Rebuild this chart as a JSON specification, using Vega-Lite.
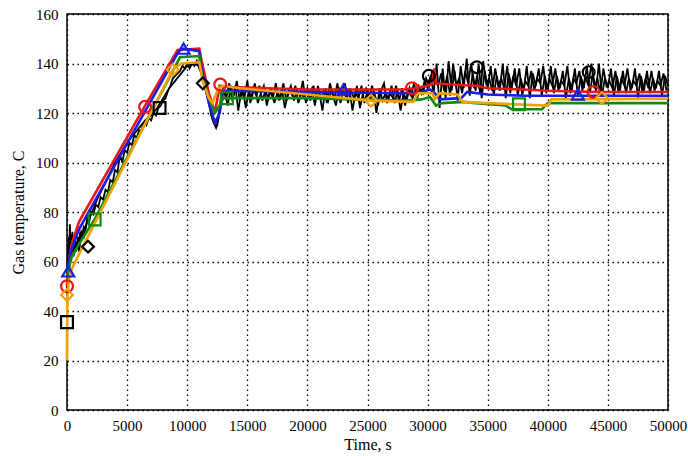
{
  "$schema": "https://vega.github.io/schema/vega-lite/v6.json",
  "width": 601,
  "height": 396,
  "autosize": {"type": "none"},
  "padding": {"left": 67, "top": 14, "right": 20, "bottom": 46},
  "background": "white",
  "config": {
    "view": {"stroke": "#000", "strokeWidth": 1.5},
    "axis": {
      "labelFont": "Liberation Serif", "labelFontSize": 15, "labelColor": "#000",
      "titleFont": "Liberation Serif", "titleFontSize": 16, "titleFontWeight": "normal", "titleColor": "#000",
      "domain": false, "ticks": false,
      "grid": true, "gridColor": "#000", "gridOpacity": 1, "gridDash": [1.5, 3.5], "gridWidth": 1.3
    }
  },
  "datasets": {
    "lines": [
      {"s": "Measured", "t": 0, "v": 40}, {"s": "Measured", "t": 50, "v": 52}, {"s": "Measured", "t": 100, "v": 60}, {"s": "Measured", "t": 150, "v": 70}, {"s": "Measured", "t": 200, "v": 58}, {"s": "Measured", "t": 250, "v": 74}, {"s": "Measured", "t": 300, "v": 62}, {"s": "Measured", "t": 350, "v": 71}, {"s": "Measured", "t": 400, "v": 64}, {"s": "Measured", "t": 500, "v": 69}, {"s": "Measured", "t": 600, "v": 63}, {"s": "Measured", "t": 700, "v": 67}, {"s": "Measured", "t": 800, "v": 65}, {"s": "Measured", "t": 900, "v": 70}, {"s": "Measured", "t": 1000, "v": 67}, {"s": "Measured", "t": 1100, "v": 72}, {"s": "Measured", "t": 1250, "v": 70}, {"s": "Measured", "t": 1400, "v": 74}, {"s": "Measured", "t": 1550, "v": 73}, {"s": "Measured", "t": 1700, "v": 78}, {"s": "Measured", "t": 1850, "v": 76}, {"s": "Measured", "t": 2000, "v": 80}, {"s": "Measured", "t": 2200, "v": 79}, {"s": "Measured", "t": 2400, "v": 83}, {"s": "Measured", "t": 2600, "v": 82}, {"s": "Measured", "t": 2800, "v": 86}, {"s": "Measured", "t": 3000, "v": 85}, {"s": "Measured", "t": 3200, "v": 89}, {"s": "Measured", "t": 3400, "v": 88}, {"s": "Measured", "t": 3600, "v": 93}, {"s": "Measured", "t": 3800, "v": 92}, {"s": "Measured", "t": 4000, "v": 97}, {"s": "Measured", "t": 4200, "v": 96}, {"s": "Measured", "t": 4400, "v": 103}, {"s": "Measured", "t": 4600, "v": 100}, {"s": "Measured", "t": 4800, "v": 105}, {"s": "Measured", "t": 5000, "v": 104}, {"s": "Measured", "t": 5200, "v": 108}, {"s": "Measured", "t": 5400, "v": 107}, {"s": "Measured", "t": 5600, "v": 111}, {"s": "Measured", "t": 5800, "v": 110}, {"s": "Measured", "t": 6000, "v": 113}, {"s": "Measured", "t": 6200, "v": 113}, {"s": "Measured", "t": 6400, "v": 116}, {"s": "Measured", "t": 6600, "v": 115}, {"s": "Measured", "t": 6800, "v": 118}, {"s": "Measured", "t": 7000, "v": 117}, {"s": "Measured", "t": 7200, "v": 120}, {"s": "Measured", "t": 7400, "v": 119}, {"s": "Measured", "t": 7600, "v": 122}, {"s": "Measured", "t": 7800, "v": 123}, {"s": "Measured", "t": 8000, "v": 125}, {"s": "Measured", "t": 8200, "v": 126}, {"s": "Measured", "t": 8400, "v": 129}, {"s": "Measured", "t": 8600, "v": 131}, {"s": "Measured", "t": 8800, "v": 134}, {"s": "Measured", "t": 9000, "v": 135}, {"s": "Measured", "t": 9200, "v": 136}, {"s": "Measured", "t": 9400, "v": 137}, {"s": "Measured", "t": 9600, "v": 139}, {"s": "Measured", "t": 9800, "v": 138}, {"s": "Measured", "t": 10000, "v": 140}, {"s": "Measured", "t": 10200, "v": 138}, {"s": "Measured", "t": 10400, "v": 140}, {"s": "Measured", "t": 10600, "v": 139}, {"s": "Measured", "t": 10800, "v": 141}, {"s": "Measured", "t": 11000, "v": 138}, {"s": "Measured", "t": 11200, "v": 136}, {"s": "Measured", "t": 11400, "v": 131}, {"s": "Measured", "t": 11600, "v": 128}, {"s": "Measured", "t": 11800, "v": 124}, {"s": "Measured", "t": 12000, "v": 119}, {"s": "Measured", "t": 12200, "v": 116}, {"s": "Measured", "t": 12400, "v": 114}, {"s": "Measured", "t": 12600, "v": 118}, {"s": "Measured", "t": 12800, "v": 126},
      {"s": "Measured", "t": 13000, "v": 130}, {"s": "Measured", "t": 13250, "v": 126}, {"s": "Measured", "t": 13500, "v": 132}, {"s": "Measured", "t": 13750, "v": 125}, {"s": "Measured", "t": 14000, "v": 131}, {"s": "Measured", "t": 14250, "v": 121}, {"s": "Measured", "t": 14500, "v": 129}, {"s": "Measured", "t": 14750, "v": 126}, {"s": "Measured", "t": 15000, "v": 133}, {"s": "Measured", "t": 15250, "v": 124}, {"s": "Measured", "t": 15500, "v": 130}, {"s": "Measured", "t": 15750, "v": 127}, {"s": "Measured", "t": 16000, "v": 131}, {"s": "Measured", "t": 16250, "v": 125}, {"s": "Measured", "t": 16500, "v": 129}, {"s": "Measured", "t": 16750, "v": 126}, {"s": "Measured", "t": 17000, "v": 130}, {"s": "Measured", "t": 17250, "v": 124}, {"s": "Measured", "t": 17500, "v": 128}, {"s": "Measured", "t": 17750, "v": 126}, {"s": "Measured", "t": 18000, "v": 132}, {"s": "Measured", "t": 18250, "v": 125}, {"s": "Measured", "t": 18500, "v": 129}, {"s": "Measured", "t": 18750, "v": 127}, {"s": "Measured", "t": 19000, "v": 131}, {"s": "Measured", "t": 19250, "v": 124}, {"s": "Measured", "t": 19500, "v": 128}, {"s": "Measured", "t": 19750, "v": 126}, {"s": "Measured", "t": 20000, "v": 130}, {"s": "Measured", "t": 20250, "v": 125}, {"s": "Measured", "t": 20500, "v": 131}, {"s": "Measured", "t": 20750, "v": 126}, {"s": "Measured", "t": 21000, "v": 128}, {"s": "Measured", "t": 21250, "v": 121}, {"s": "Measured", "t": 21500, "v": 130}, {"s": "Measured", "t": 21750, "v": 125}, {"s": "Measured", "t": 22000, "v": 129}, {"s": "Measured", "t": 22250, "v": 126}, {"s": "Measured", "t": 22500, "v": 132}, {"s": "Measured", "t": 22750, "v": 124}, {"s": "Measured", "t": 23000, "v": 129}, {"s": "Measured", "t": 23250, "v": 126}, {"s": "Measured", "t": 23500, "v": 130}, {"s": "Measured", "t": 23750, "v": 121}, {"s": "Measured", "t": 24000, "v": 128}, {"s": "Measured", "t": 24250, "v": 126}, {"s": "Measured", "t": 24500, "v": 131}, {"s": "Measured", "t": 24750, "v": 124}, {"s": "Measured", "t": 25000, "v": 129}, {"s": "Measured", "t": 25250, "v": 126}, {"s": "Measured", "t": 25500, "v": 128}, {"s": "Measured", "t": 25750, "v": 120}, {"s": "Measured", "t": 26000, "v": 130}, {"s": "Measured", "t": 26250, "v": 125}, {"s": "Measured", "t": 26500, "v": 128}, {"s": "Measured", "t": 26750, "v": 126}, {"s": "Measured", "t": 27000, "v": 131}, {"s": "Measured", "t": 27250, "v": 124}, {"s": "Measured", "t": 27500, "v": 129}, {"s": "Measured", "t": 27750, "v": 121}, {"s": "Measured", "t": 28000, "v": 128}, {"s": "Measured", "t": 28250, "v": 125}, {"s": "Measured", "t": 28500, "v": 130}, {"s": "Measured", "t": 28750, "v": 126}, {"s": "Measured", "t": 29000, "v": 129}, {"s": "Measured", "t": 29250, "v": 131}, {"s": "Measured", "t": 29500, "v": 128}, {"s": "Measured", "t": 29750, "v": 133}, {"s": "Measured", "t": 30000, "v": 130}, {"s": "Measured", "t": 30250, "v": 135}, {"s": "Measured", "t": 30500, "v": 128},
      {"s": "Measured", "t": 30750, "v": 140}, {"s": "Measured", "t": 31000, "v": 122}, {"s": "Measured", "t": 31250, "v": 138}, {"s": "Measured", "t": 31500, "v": 126}, {"s": "Measured", "t": 31750, "v": 141}, {"s": "Measured", "t": 32000, "v": 129}, {"s": "Measured", "t": 32250, "v": 137}, {"s": "Measured", "t": 32500, "v": 125}, {"s": "Measured", "t": 32750, "v": 139}, {"s": "Measured", "t": 33000, "v": 130}, {"s": "Measured", "t": 33250, "v": 142}, {"s": "Measured", "t": 33500, "v": 127}, {"s": "Measured", "t": 33750, "v": 136}, {"s": "Measured", "t": 34000, "v": 129}, {"s": "Measured", "t": 34250, "v": 140}, {"s": "Measured", "t": 34500, "v": 126}, {"s": "Measured", "t": 34750, "v": 137}, {"s": "Measured", "t": 35000, "v": 130}, {"s": "Measured", "t": 35250, "v": 139}, {"s": "Measured", "t": 35500, "v": 127}, {"s": "Measured", "t": 35750, "v": 135}, {"s": "Measured", "t": 36000, "v": 129}, {"s": "Measured", "t": 36250, "v": 140}, {"s": "Measured", "t": 36500, "v": 126}, {"s": "Measured", "t": 36750, "v": 136}, {"s": "Measured", "t": 37000, "v": 130}, {"s": "Measured", "t": 37250, "v": 138}, {"s": "Measured", "t": 37500, "v": 127}, {"s": "Measured", "t": 37750, "v": 134}, {"s": "Measured", "t": 38000, "v": 129}, {"s": "Measured", "t": 38250, "v": 139}, {"s": "Measured", "t": 38500, "v": 126}, {"s": "Measured", "t": 38750, "v": 136}, {"s": "Measured", "t": 39000, "v": 131}, {"s": "Measured", "t": 39250, "v": 138}, {"s": "Measured", "t": 39500, "v": 127}, {"s": "Measured", "t": 39750, "v": 135}, {"s": "Measured", "t": 40000, "v": 129}, {"s": "Measured", "t": 40250, "v": 139}, {"s": "Measured", "t": 40500, "v": 128}, {"s": "Measured", "t": 40750, "v": 135}, {"s": "Measured", "t": 41000, "v": 130}, {"s": "Measured", "t": 41250, "v": 137}, {"s": "Measured", "t": 41500, "v": 126}, {"s": "Measured", "t": 41750, "v": 134}, {"s": "Measured", "t": 42000, "v": 129}, {"s": "Measured", "t": 42250, "v": 138}, {"s": "Measured", "t": 42500, "v": 127}, {"s": "Measured", "t": 42750, "v": 135}, {"s": "Measured", "t": 43000, "v": 130}, {"s": "Measured", "t": 43250, "v": 139}, {"s": "Measured", "t": 43500, "v": 128}, {"s": "Measured", "t": 43750, "v": 136}, {"s": "Measured", "t": 44000, "v": 129}, {"s": "Measured", "t": 44250, "v": 140}, {"s": "Measured", "t": 44500, "v": 127}, {"s": "Measured", "t": 44750, "v": 134}, {"s": "Measured", "t": 45000, "v": 130}, {"s": "Measured", "t": 45250, "v": 138}, {"s": "Measured", "t": 45500, "v": 127}, {"s": "Measured", "t": 45750, "v": 135}, {"s": "Measured", "t": 46000, "v": 129}, {"s": "Measured", "t": 46250, "v": 137}, {"s": "Measured", "t": 46500, "v": 128}, {"s": "Measured", "t": 46750, "v": 134}, {"s": "Measured", "t": 47000, "v": 130}, {"s": "Measured", "t": 47250, "v": 138}, {"s": "Measured", "t": 47500, "v": 126}, {"s": "Measured", "t": 47750, "v": 135}, {"s": "Measured", "t": 48000, "v": 129}, {"s": "Measured", "t": 48250, "v": 137}, {"s": "Measured", "t": 48500, "v": 128}, {"s": "Measured", "t": 48750, "v": 134}, {"s": "Measured", "t": 49000, "v": 130}, {"s": "Measured", "t": 49250, "v": 137}, {"s": "Measured", "t": 49500, "v": 127}, {"s": "Measured", "t": 49750, "v": 135}, {"s": "Measured", "t": 50000, "v": 131},

      {"s": "Measured B", "t": 0, "v": 45}, {"s": "Measured B", "t": 80, "v": 66}, {"s": "Measured B", "t": 160, "v": 56}, {"s": "Measured B", "t": 240, "v": 75}, {"s": "Measured B", "t": 320, "v": 60}, {"s": "Measured B", "t": 450, "v": 72}, {"s": "Measured B", "t": 550, "v": 62}, {"s": "Measured B", "t": 650, "v": 70}, {"s": "Measured B", "t": 750, "v": 64}, {"s": "Measured B", "t": 850, "v": 68}, {"s": "Measured B", "t": 1000, "v": 64}, {"s": "Measured B", "t": 1200, "v": 72}, {"s": "Measured B", "t": 1400, "v": 70}, {"s": "Measured B", "t": 1600, "v": 75}, {"s": "Measured B", "t": 2000, "v": 79}, {"s": "Measured B", "t": 2500, "v": 85}, {"s": "Measured B", "t": 3000, "v": 90}, {"s": "Measured B", "t": 3500, "v": 95}, {"s": "Measured B", "t": 4000, "v": 100}, {"s": "Measured B", "t": 4500, "v": 104}, {"s": "Measured B", "t": 5000, "v": 108}, {"s": "Measured B", "t": 5500, "v": 111}, {"s": "Measured B", "t": 6000, "v": 114}, {"s": "Measured B", "t": 6500, "v": 117}, {"s": "Measured B", "t": 7000, "v": 119}, {"s": "Measured B", "t": 7500, "v": 122}, {"s": "Measured B", "t": 8000, "v": 126}, {"s": "Measured B", "t": 8500, "v": 130}, {"s": "Measured B", "t": 9000, "v": 133}, {"s": "Measured B", "t": 9500, "v": 136}, {"s": "Measured B", "t": 10000, "v": 139}, {"s": "Measured B", "t": 10500, "v": 140}, {"s": "Measured B", "t": 11000, "v": 139}, {"s": "Measured B", "t": 11300, "v": 134}, {"s": "Measured B", "t": 11600, "v": 129}, {"s": "Measured B", "t": 12000, "v": 121}, {"s": "Measured B", "t": 12300, "v": 116}, {"s": "Measured B", "t": 12500, "v": 115}, {"s": "Measured B", "t": 12700, "v": 121}, {"s": "Measured B", "t": 12900, "v": 128},
      {"s": "Measured B", "t": 13125, "v": 128}, {"s": "Measured B", "t": 13375, "v": 123}, {"s": "Measured B", "t": 13625, "v": 131}, {"s": "Measured B", "t": 13875, "v": 127}, {"s": "Measured B", "t": 14125, "v": 133}, {"s": "Measured B", "t": 14375, "v": 125}, {"s": "Measured B", "t": 14625, "v": 130}, {"s": "Measured B", "t": 14875, "v": 122}, {"s": "Measured B", "t": 15125, "v": 129}, {"s": "Measured B", "t": 15375, "v": 126}, {"s": "Measured B", "t": 15625, "v": 132}, {"s": "Measured B", "t": 15875, "v": 124}, {"s": "Measured B", "t": 16125, "v": 128}, {"s": "Measured B", "t": 16375, "v": 131}, {"s": "Measured B", "t": 16625, "v": 123}, {"s": "Measured B", "t": 16875, "v": 129}, {"s": "Measured B", "t": 17125, "v": 126}, {"s": "Measured B", "t": 17375, "v": 132}, {"s": "Measured B", "t": 17625, "v": 125}, {"s": "Measured B", "t": 17875, "v": 130}, {"s": "Measured B", "t": 18125, "v": 122}, {"s": "Measured B", "t": 18375, "v": 128}, {"s": "Measured B", "t": 18625, "v": 131}, {"s": "Measured B", "t": 18875, "v": 125}, {"s": "Measured B", "t": 19125, "v": 129}, {"s": "Measured B", "t": 19375, "v": 127}, {"s": "Measured B", "t": 19625, "v": 133}, {"s": "Measured B", "t": 19875, "v": 124}, {"s": "Measured B", "t": 20125, "v": 128}, {"s": "Measured B", "t": 20375, "v": 130}, {"s": "Measured B", "t": 20625, "v": 123}, {"s": "Measured B", "t": 20875, "v": 131}, {"s": "Measured B", "t": 21125, "v": 126}, {"s": "Measured B", "t": 21375, "v": 129}, {"s": "Measured B", "t": 21625, "v": 124}, {"s": "Measured B", "t": 21875, "v": 132}, {"s": "Measured B", "t": 22125, "v": 127}, {"s": "Measured B", "t": 22375, "v": 123}, {"s": "Measured B", "t": 22625, "v": 130}, {"s": "Measured B", "t": 22875, "v": 128}, {"s": "Measured B", "t": 23125, "v": 132}, {"s": "Measured B", "t": 23375, "v": 124}, {"s": "Measured B", "t": 23625, "v": 129}, {"s": "Measured B", "t": 23875, "v": 126}, {"s": "Measured B", "t": 24125, "v": 131}, {"s": "Measured B", "t": 24375, "v": 122}, {"s": "Measured B", "t": 24625, "v": 128}, {"s": "Measured B", "t": 24875, "v": 130}, {"s": "Measured B", "t": 25125, "v": 125}, {"s": "Measured B", "t": 25375, "v": 131}, {"s": "Measured B", "t": 25625, "v": 127}, {"s": "Measured B", "t": 25875, "v": 123}, {"s": "Measured B", "t": 26125, "v": 129}, {"s": "Measured B", "t": 26375, "v": 132}, {"s": "Measured B", "t": 26625, "v": 124}, {"s": "Measured B", "t": 26875, "v": 128}, {"s": "Measured B", "t": 27125, "v": 126}, {"s": "Measured B", "t": 27375, "v": 131}, {"s": "Measured B", "t": 27625, "v": 125}, {"s": "Measured B", "t": 27875, "v": 130}, {"s": "Measured B", "t": 28125, "v": 123}, {"s": "Measured B", "t": 28375, "v": 129}, {"s": "Measured B", "t": 28625, "v": 127}, {"s": "Measured B", "t": 28875, "v": 132}, {"s": "Measured B", "t": 29125, "v": 126}, {"s": "Measured B", "t": 29375, "v": 130}, {"s": "Measured B", "t": 29625, "v": 128}, {"s": "Measured B", "t": 29875, "v": 134}, {"s": "Measured B", "t": 30125, "v": 131}, {"s": "Measured B", "t": 30375, "v": 137}, {"s": "Measured B", "t": 30625, "v": 133},
      {"s": "Measured B", "t": 30875, "v": 131}, {"s": "Measured B", "t": 31125, "v": 136}, {"s": "Measured B", "t": 31375, "v": 129}, {"s": "Measured B", "t": 31625, "v": 135}, {"s": "Measured B", "t": 31875, "v": 127}, {"s": "Measured B", "t": 32125, "v": 140}, {"s": "Measured B", "t": 32375, "v": 131}, {"s": "Measured B", "t": 32625, "v": 134}, {"s": "Measured B", "t": 32875, "v": 128}, {"s": "Measured B", "t": 33125, "v": 137}, {"s": "Measured B", "t": 33375, "v": 132}, {"s": "Measured B", "t": 33625, "v": 140}, {"s": "Measured B", "t": 33875, "v": 130}, {"s": "Measured B", "t": 34125, "v": 135}, {"s": "Measured B", "t": 34375, "v": 128}, {"s": "Measured B", "t": 34625, "v": 141}, {"s": "Measured B", "t": 34875, "v": 132}, {"s": "Measured B", "t": 35125, "v": 134}, {"s": "Measured B", "t": 35375, "v": 129}, {"s": "Measured B", "t": 35625, "v": 138}, {"s": "Measured B", "t": 35875, "v": 131}, {"s": "Measured B", "t": 36125, "v": 134}, {"s": "Measured B", "t": 36375, "v": 130}, {"s": "Measured B", "t": 36625, "v": 139}, {"s": "Measured B", "t": 36875, "v": 128}, {"s": "Measured B", "t": 37125, "v": 135}, {"s": "Measured B", "t": 37375, "v": 131}, {"s": "Measured B", "t": 37625, "v": 138}, {"s": "Measured B", "t": 37875, "v": 127}, {"s": "Measured B", "t": 38125, "v": 133}, {"s": "Measured B", "t": 38375, "v": 131}, {"s": "Measured B", "t": 38625, "v": 137}, {"s": "Measured B", "t": 38875, "v": 129}, {"s": "Measured B", "t": 39125, "v": 134}, {"s": "Measured B", "t": 39375, "v": 132}, {"s": "Measured B", "t": 39625, "v": 139}, {"s": "Measured B", "t": 39875, "v": 128}, {"s": "Measured B", "t": 40125, "v": 134}, {"s": "Measured B", "t": 40375, "v": 131}, {"s": "Measured B", "t": 40625, "v": 138}, {"s": "Measured B", "t": 40875, "v": 129}, {"s": "Measured B", "t": 41125, "v": 133}, {"s": "Measured B", "t": 41375, "v": 131}, {"s": "Measured B", "t": 41625, "v": 139}, {"s": "Measured B", "t": 41875, "v": 128}, {"s": "Measured B", "t": 42125, "v": 134}, {"s": "Measured B", "t": 42375, "v": 132}, {"s": "Measured B", "t": 42625, "v": 137}, {"s": "Measured B", "t": 42875, "v": 129}, {"s": "Measured B", "t": 43125, "v": 135}, {"s": "Measured B", "t": 43375, "v": 131}, {"s": "Measured B", "t": 43625, "v": 140}, {"s": "Measured B", "t": 43875, "v": 130}, {"s": "Measured B", "t": 44125, "v": 134}, {"s": "Measured B", "t": 44375, "v": 128}, {"s": "Measured B", "t": 44625, "v": 138}, {"s": "Measured B", "t": 44875, "v": 131}, {"s": "Measured B", "t": 45125, "v": 133}, {"s": "Measured B", "t": 45375, "v": 130}, {"s": "Measured B", "t": 45625, "v": 137}, {"s": "Measured B", "t": 45875, "v": 128}, {"s": "Measured B", "t": 46125, "v": 134}, {"s": "Measured B", "t": 46375, "v": 131}, {"s": "Measured B", "t": 46625, "v": 138}, {"s": "Measured B", "t": 46875, "v": 129}, {"s": "Measured B", "t": 47125, "v": 133}, {"s": "Measured B", "t": 47375, "v": 131}, {"s": "Measured B", "t": 47625, "v": 136}, {"s": "Measured B", "t": 47875, "v": 128}, {"s": "Measured B", "t": 48125, "v": 134}, {"s": "Measured B", "t": 48375, "v": 130}, {"s": "Measured B", "t": 48625, "v": 137}, {"s": "Measured B", "t": 48875, "v": 129}, {"s": "Measured B", "t": 49125, "v": 133}, {"s": "Measured B", "t": 49375, "v": 131}, {"s": "Measured B", "t": 49625, "v": 136}, {"s": "Measured B", "t": 49875, "v": 129},

      {"s": "Case 1", "t": 0, "v": 50}, {"s": "Case 1", "t": 80, "v": 56}, {"s": "Case 1", "t": 200, "v": 62}, {"s": "Case 1", "t": 400, "v": 67}, {"s": "Case 1", "t": 1000, "v": 76}, {"s": "Case 1", "t": 6500, "v": 123}, {"s": "Case 1", "t": 9200, "v": 145.5}, {"s": "Case 1", "t": 11000, "v": 146}, {"s": "Case 1", "t": 11200, "v": 141}, {"s": "Case 1", "t": 11800, "v": 128}, {"s": "Case 1", "t": 12300, "v": 120}, {"s": "Case 1", "t": 12700, "v": 131}, {"s": "Case 1", "t": 13500, "v": 130.5}, {"s": "Case 1", "t": 20000, "v": 129.5}, {"s": "Case 1", "t": 28000, "v": 129.5}, {"s": "Case 1", "t": 29000, "v": 130}, {"s": "Case 1", "t": 30000, "v": 131}, {"s": "Case 1", "t": 30400, "v": 132}, {"s": "Case 1", "t": 30550, "v": 138}, {"s": "Case 1", "t": 30700, "v": 132}, {"s": "Case 1", "t": 32000, "v": 131.5}, {"s": "Case 1", "t": 34000, "v": 131}, {"s": "Case 1", "t": 35000, "v": 130}, {"s": "Case 1", "t": 38000, "v": 129.5}, {"s": "Case 1", "t": 40000, "v": 129}, {"s": "Case 1", "t": 44000, "v": 128.5}, {"s": "Case 1", "t": 50000, "v": 128.5},

      {"s": "Case 2", "t": 0, "v": 56}, {"s": "Case 2", "t": 100, "v": 58}, {"s": "Case 2", "t": 300, "v": 64}, {"s": "Case 2", "t": 1000, "v": 73}, {"s": "Case 2", "t": 9300, "v": 145}, {"s": "Case 2", "t": 9700, "v": 146}, {"s": "Case 2", "t": 11000, "v": 145}, {"s": "Case 2", "t": 11200, "v": 138}, {"s": "Case 2", "t": 11800, "v": 124}, {"s": "Case 2", "t": 12300, "v": 116}, {"s": "Case 2", "t": 12700, "v": 120}, {"s": "Case 2", "t": 13000, "v": 129}, {"s": "Case 2", "t": 20000, "v": 128.5}, {"s": "Case 2", "t": 28000, "v": 128}, {"s": "Case 2", "t": 29500, "v": 128.5}, {"s": "Case 2", "t": 30200, "v": 129.5}, {"s": "Case 2", "t": 30600, "v": 128}, {"s": "Case 2", "t": 31000, "v": 125.5}, {"s": "Case 2", "t": 32800, "v": 126}, {"s": "Case 2", "t": 33300, "v": 128.5}, {"s": "Case 2", "t": 35000, "v": 127.5}, {"s": "Case 2", "t": 38000, "v": 127}, {"s": "Case 2", "t": 40000, "v": 127}, {"s": "Case 2", "t": 50000, "v": 127},

      {"s": "Case 3", "t": 0, "v": 52}, {"s": "Case 3", "t": 150, "v": 57}, {"s": "Case 3", "t": 400, "v": 62}, {"s": "Case 3", "t": 1000, "v": 67}, {"s": "Case 3", "t": 2300, "v": 77}, {"s": "Case 3", "t": 9400, "v": 142.5}, {"s": "Case 3", "t": 11000, "v": 143}, {"s": "Case 3", "t": 11200, "v": 136}, {"s": "Case 3", "t": 11800, "v": 126}, {"s": "Case 3", "t": 12300, "v": 120}, {"s": "Case 3", "t": 12700, "v": 123}, {"s": "Case 3", "t": 13000, "v": 126}, {"s": "Case 3", "t": 20000, "v": 126}, {"s": "Case 3", "t": 28000, "v": 125}, {"s": "Case 3", "t": 29500, "v": 125.5}, {"s": "Case 3", "t": 30200, "v": 126.5}, {"s": "Case 3", "t": 30700, "v": 123}, {"s": "Case 3", "t": 31200, "v": 124}, {"s": "Case 3", "t": 33000, "v": 124.5}, {"s": "Case 3", "t": 34000, "v": 124}, {"s": "Case 3", "t": 36500, "v": 123}, {"s": "Case 3", "t": 37000, "v": 121.5}, {"s": "Case 3", "t": 39500, "v": 121.5}, {"s": "Case 3", "t": 40000, "v": 124}, {"s": "Case 3", "t": 50000, "v": 124},

      {"s": "Case 4", "t": 0, "v": 20}, {"s": "Case 4", "t": 30, "v": 46}, {"s": "Case 4", "t": 150, "v": 52}, {"s": "Case 4", "t": 400, "v": 57}, {"s": "Case 4", "t": 1000, "v": 63}, {"s": "Case 4", "t": 8800, "v": 137.5}, {"s": "Case 4", "t": 9500, "v": 140}, {"s": "Case 4", "t": 11000, "v": 140.5}, {"s": "Case 4", "t": 11300, "v": 133}, {"s": "Case 4", "t": 11800, "v": 126}, {"s": "Case 4", "t": 12100, "v": 124}, {"s": "Case 4", "t": 12600, "v": 130}, {"s": "Case 4", "t": 13000, "v": 131}, {"s": "Case 4", "t": 14400, "v": 130}, {"s": "Case 4", "t": 20000, "v": 127.5}, {"s": "Case 4", "t": 25300, "v": 125}, {"s": "Case 4", "t": 28800, "v": 124.5}, {"s": "Case 4", "t": 29200, "v": 128}, {"s": "Case 4", "t": 30400, "v": 128}, {"s": "Case 4", "t": 30600, "v": 125.5}, {"s": "Case 4", "t": 31000, "v": 128}, {"s": "Case 4", "t": 32500, "v": 127.5}, {"s": "Case 4", "t": 32900, "v": 124.5}, {"s": "Case 4", "t": 35000, "v": 124}, {"s": "Case 4", "t": 40000, "v": 123}, {"s": "Case 4", "t": 40300, "v": 125.5}, {"s": "Case 4", "t": 50000, "v": 125.8}
    ],
    "markers": [
      {"s": "Measured", "m": "square", "t": 0, "v": 35.5},
      {"s": "Measured", "m": "diamond", "t": 1750, "v": 66},
      {"s": "Measured", "m": "square", "t": 7700, "v": 122},
      {"s": "Measured", "m": "diamond", "t": 11300, "v": 132},
      {"s": "Measured B", "m": "circle", "t": 30100, "v": 135},
      {"s": "Measured B", "m": "circle", "t": 34100, "v": 138.5},
      {"s": "Measured B", "m": "circle", "t": 43400, "v": 136.5},
      {"s": "Case 1", "m": "circle", "t": 0, "v": 50},
      {"s": "Case 1", "m": "circle", "t": 6500, "v": 122.5},
      {"s": "Case 1", "m": "circle", "t": 12750, "v": 131.5},
      {"s": "Case 1", "m": "circle", "t": 28700, "v": 130},
      {"s": "Case 1", "m": "circle", "t": 43800, "v": 128.5},
      {"s": "Case 2", "m": "triangle-up", "t": 100, "v": 56},
      {"s": "Case 2", "m": "triangle-up", "t": 9700, "v": 146},
      {"s": "Case 2", "m": "triangle-up", "t": 23000, "v": 129.5},
      {"s": "Case 2", "m": "triangle-up", "t": 42500, "v": 127.5},
      {"s": "Case 3", "m": "square", "t": 2300, "v": 77},
      {"s": "Case 3", "m": "square", "t": 13300, "v": 126},
      {"s": "Case 3", "m": "square", "t": 37600, "v": 123.5},
      {"s": "Case 4", "m": "diamond", "t": 0, "v": 46.5},
      {"s": "Case 4", "m": "diamond", "t": 8800, "v": 137.5},
      {"s": "Case 4", "m": "diamond", "t": 25300, "v": 125},
      {"s": "Case 4", "m": "diamond", "t": 44500, "v": 126}
    ]
  },
  "encoding": {
    "x": {"field": "t", "type": "quantitative", "title": "Time, s",
      "scale": {"domain": [0, 50000], "nice": false},
      "axis": {"values": [0, 5000, 10000, 15000, 20000, 25000, 30000, 35000, 40000, 45000, 50000], "labelPadding": 8, "titlePadding": 3, "labelFlush": false, "format": "d"}},
    "y": {"field": "v", "type": "quantitative", "title": "Gas temperature, C",
      "scale": {"domain": [0, 160], "nice": false},
      "axis": {"values": [0, 20, 40, 60, 80, 100, 120, 140, 160], "labelPadding": 9, "titlePadding": 9, "labelFlush": false}},
    "color": {"field": "s", "type": "nominal", "legend": null,
      "scale": {"domain": ["Measured", "Measured B", "Case 1", "Case 2", "Case 3", "Case 4"], "range": ["#000000", "#000000", "#ee1515", "#1c1ce6", "#128a12", "#f2a200"]}}
  },
  "layer": [
    {"data": {"name": "lines"}, "transform": [{"filter": "datum.s === 'Measured' || datum.s === 'Measured B'"}],
     "mark": {"type": "line", "strokeWidth": 1.8, "strokeJoin": "miter"}},
    {"data": {"name": "lines"}, "transform": [{"filter": "datum.s !== 'Measured' && datum.s !== 'Measured B'"}],
     "mark": {"type": "line", "strokeWidth": 2.6}},
    {"data": {"name": "markers"},
     "mark": {"type": "point", "filled": false, "strokeWidth": 2.2, "size": 140, "opacity": 1},
     "encoding": {"shape": {"field": "m", "type": "nominal", "legend": null,
       "scale": {"domain": ["circle", "square", "triangle-up", "diamond"], "range": ["circle", "square", "triangle-up", "diamond"]}}}}
  ]
}
